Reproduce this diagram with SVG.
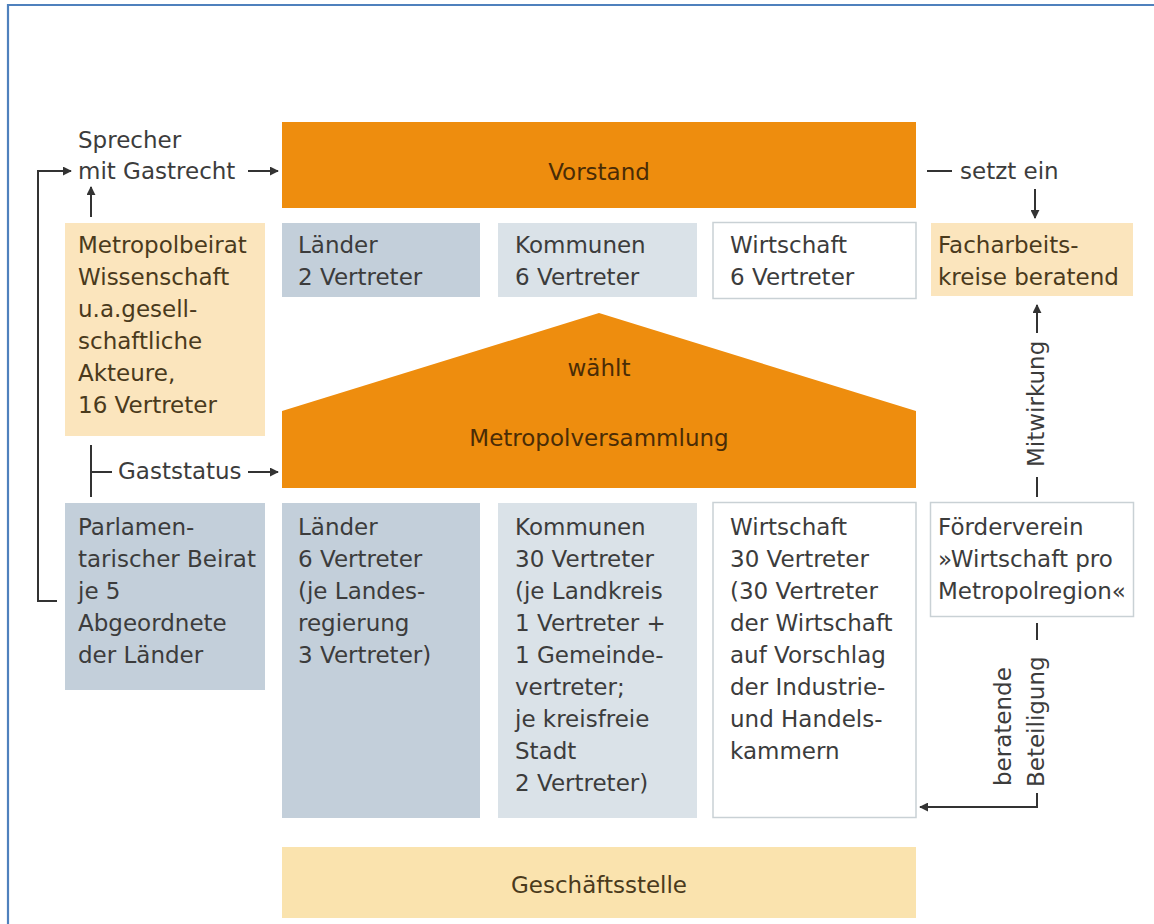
<svg xmlns="http://www.w3.org/2000/svg" width="1154" height="924" viewBox="0 0 1154 924">
  <defs>
    <marker id="arrow" viewBox="0 0 10 10" refX="9" refY="5" markerWidth="9" markerHeight="9" markerUnits="userSpaceOnUse" orient="auto">
      <path d="M0,0 L10,5 L0,10 z" fill="#333"/>
    </marker>
    <style>
      text { font-family: "DejaVu Sans", Verdana, sans-serif; font-size: 23px; fill: #3c3c3c; }
      .c { text-anchor: middle; }
      .dark { fill: #4a2c06; }
      .tan { fill: #4a3a1c; }
      .orange { fill: #ee8d0e; }
      .beige { fill: #fbe5bd; }
      .sand { fill: #fae3ae; }
      .slate { fill: #c3cfda; }
      .mist { fill: #dae2e8; }
      .white { fill: #ffffff; stroke: #c9d1d5; stroke-width: 1.5; }
      .ln { fill: none; stroke: #333; stroke-width: 2; }
      .arr { fill: none; stroke: #333; stroke-width: 2; marker-end: url(#arrow); }
    </style>
  </defs>

  <rect width="1154" height="924" fill="#ffffff"/>
  <!-- frame -->
  <path d="M8,924 V5 H1154" fill="none" stroke="#4f81bd" stroke-width="2.2"/>

  <!-- board -->
  <g id="vorstand">
    <rect class="orange" x="282" y="122" width="634" height="86"/>
    <text class="c dark" x="599" y="180">Vorstand</text>
  </g>
  <g id="vorstand-laender">
    <rect class="slate" x="282" y="223" width="198" height="74"/>
    <text x="298" y="253">Länder</text>
    <text x="298" y="285">2 Vertreter</text>
  </g>
  <g id="vorstand-kommunen">
    <rect class="mist" x="498" y="223" width="199" height="74"/>
    <text x="515" y="253">Kommunen</text>
    <text x="515" y="285">6 Vertreter</text>
  </g>
  <g id="vorstand-wirtschaft">
    <rect class="white" x="713" y="222.5" width="203" height="76"/>
    <text x="730" y="253">Wirtschaft</text>
    <text x="730" y="285">6 Vertreter</text>
  </g>

  <!-- advisory bodies -->
  <g id="sprecher">
    <text x="78" y="148">Sprecher</text>
    <text x="78" y="179">mit Gastrecht</text>
  </g>
  <g id="metropolbeirat">
    <rect class="beige" x="65" y="223" width="200" height="213"/>
    <text class="tan" x="78" y="253">Metropolbeirat</text>
    <text class="tan" x="78" y="285">Wissenschaft</text>
    <text class="tan" x="78" y="317">u.a.gesell-</text>
    <text class="tan" x="78" y="349">schaftliche</text>
    <text class="tan" x="78" y="381">Akteure,</text>
    <text class="tan" x="78" y="413">16 Vertreter</text>
  </g>
  <g id="facharbeitskreise">
    <rect class="beige" x="931" y="223" width="202" height="73"/>
    <text class="tan" x="938" y="253">Facharbeits-</text>
    <text class="tan" x="938" y="285">kreise beratend</text>
  </g>

  <!-- assembly -->
  <g id="metropolversammlung">
    <polygon class="orange" points="282,411 599,313 916,411 916,488 282,488"/>
    <text class="c dark" x="599" y="376">wählt</text>
    <text class="c dark" x="599" y="446">Metropolversammlung</text>
  </g>
  <g id="parlamentarischer-beirat">
    <rect class="slate" x="65" y="503" width="200" height="187"/>
    <text x="78" y="535">Parlamen-</text>
    <text x="78" y="567">tarischer Beirat</text>
    <text x="78" y="599">je 5</text>
    <text x="78" y="631">Abgeordnete</text>
    <text x="78" y="663">der Länder</text>
  </g>
  <g id="versammlung-laender">
    <rect class="slate" x="282" y="503" width="198" height="315"/>
    <text x="298" y="535">Länder</text>
    <text x="298" y="567">6 Vertreter</text>
    <text x="298" y="599">(je Landes-</text>
    <text x="298" y="631">regierung</text>
    <text x="298" y="663">3 Vertreter)</text>
  </g>
  <g id="versammlung-kommunen">
    <rect class="mist" x="498" y="503" width="199" height="315"/>
    <text x="515" y="535">Kommunen</text>
    <text x="515" y="567">30 Vertreter</text>
    <text x="515" y="599">(je Landkreis</text>
    <text x="515" y="631">1 Vertreter +</text>
    <text x="515" y="663">1 Gemeinde-</text>
    <text x="515" y="695">vertreter;</text>
    <text x="515" y="727">je kreisfreie</text>
    <text x="515" y="759">Stadt</text>
    <text x="515" y="791">2 Vertreter)</text>
  </g>
  <g id="versammlung-wirtschaft">
    <rect class="white" x="713" y="502.5" width="203" height="315"/>
    <text x="730" y="535">Wirtschaft</text>
    <text x="730" y="567">30 Vertreter</text>
    <text x="730" y="599">(30 Vertreter</text>
    <text x="730" y="631">der Wirtschaft</text>
    <text x="730" y="663">auf Vorschlag</text>
    <text x="730" y="695">der Industrie-</text>
    <text x="730" y="727">und Handels-</text>
    <text x="730" y="759">kammern</text>
  </g>
  <g id="foerderverein">
    <rect class="white" x="930.5" y="502.5" width="203" height="114"/>
    <text x="938" y="535">Förderverein</text>
    <text x="938" y="567">»Wirtschaft pro</text>
    <text x="938" y="599">Metropolregion«</text>
  </g>
  <g id="geschaeftsstelle">
    <rect class="sand" x="282" y="847" width="634" height="71"/>
    <text class="c tan" x="599" y="893">Geschäftsstelle</text>
  </g>

  <!-- connector labels -->
  <g id="labels">
    <text x="118" y="479">Gaststatus</text>
    <text x="960" y="179">setzt ein</text>
    <text transform="translate(1044,467) rotate(-90)">Mitwirkung</text>
    <text transform="translate(1011,786) rotate(-90)">beratende</text>
    <text transform="translate(1044,787) rotate(-90)">Beteiligung</text>
  </g>

  <!-- connectors -->
  <g id="connectors">
    <path class="arr" d="M57,601 H38 V171 H71"/>
    <path class="arr" d="M91,217 V187"/>
    <path class="arr" d="M248,171 H278"/>
    <path class="ln" d="M91,445 V497 M91,472 H112"/>
    <path class="arr" d="M248,472 H278"/>
    <path class="ln" d="M927,171 H952"/>
    <path class="arr" d="M1035,189 V218"/>
    <path class="arr" d="M1037,333 V305"/>
    <path class="ln" d="M1037,477 V497"/>
    <path class="ln" d="M1037,623 V640"/>
    <path class="arr" d="M1037,793 V807 H920"/>
  </g>
</svg>
